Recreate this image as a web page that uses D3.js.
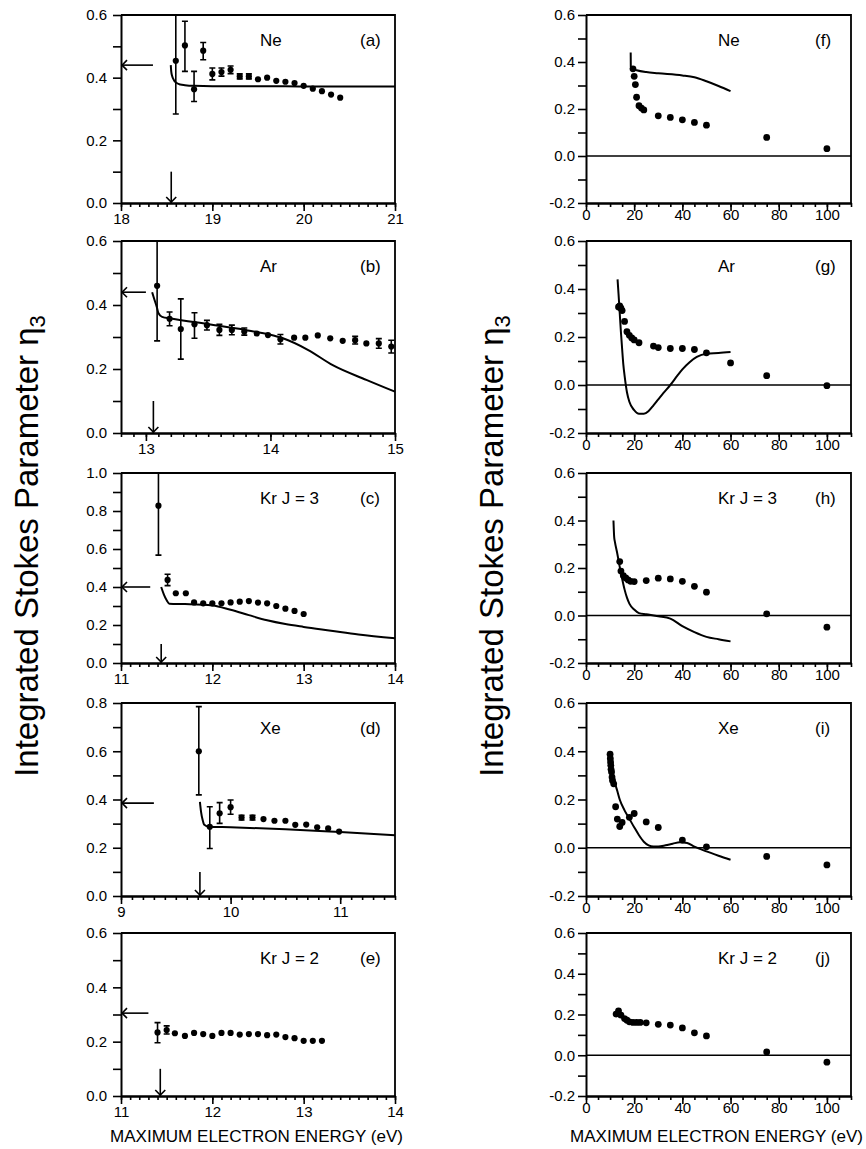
<!DOCTYPE html>
<html>
<head>
<meta charset="utf-8">
<script src="https://cdn.jsdelivr.net/npm/d3@7"></script>
<style>
body { margin: 0; background: #fff; }
svg { font-family: "Liberation Sans", Arial, Helvetica, sans-serif; }
</style>
</head>
<body>
<svg id="chart" width="866" height="1149"></svg>
<script>
// ---- left column, near threshold ----
var neE = [18.6, 18.7, 18.8, 18.9, 19.0, 19.1, 19.2, 19.3, 19.4, 19.5, 19.6, 19.7, 19.8, 19.9, 20.0, 20.1, 20.2, 20.3, 20.4];
var neEta = [0.454, 0.503, 0.363, 0.486, 0.412, 0.418, 0.425, 0.404, 0.404, 0.395, 0.400, 0.390, 0.387, 0.383, 0.374, 0.365, 0.357, 0.346, 0.336];
var neLo = [0.284, 0.42, 0.324, 0.457, 0.393, 0.405, 0.413, 0.396, 0.396, null, null, null, null, null, null, null, null, null, null];
var neHi = [0.6, 0.58, 0.42, 0.512, 0.431, 0.431, 0.437, 0.412, 0.412, null, null, null, null, null, null, null, null, null, null];
var neThE = [18.545, 18.55, 18.56, 18.58, 18.6, 18.65, 18.7, 18.8, 19.0, 19.5, 20.0, 21.0];
var neThEta = [0.44, 0.42, 0.405, 0.392, 0.385, 0.378, 0.376, 0.374, 0.373, 0.373, 0.372, 0.372];

var arE = [13.09, 13.19, 13.28, 13.39, 13.49, 13.59, 13.69, 13.79, 13.89, 13.98, 14.08, 14.19, 14.28, 14.38, 14.48, 14.58, 14.68, 14.77, 14.87, 14.97];
var arEta = [0.46, 0.357, 0.325, 0.34, 0.337, 0.322, 0.322, 0.317, 0.311, 0.306, 0.293, 0.298, 0.298, 0.305, 0.296, 0.288, 0.29, 0.28, 0.28, 0.27];
var arLo = [0.288, 0.335, 0.231, 0.296, 0.322, 0.305, 0.307, 0.306, null, null, 0.278, null, null, null, null, null, 0.278, null, 0.265, 0.25];
var arHi = [0.6, 0.378, 0.419, 0.376, 0.352, 0.34, 0.337, 0.328, null, null, 0.308, null, null, null, null, null, 0.302, null, 0.295, 0.29];
var arThE = [13.05, 13.07, 13.09, 13.1, 13.13, 13.2, 13.5, 13.8, 14.0, 14.1, 14.3, 14.5, 14.77, 15.0];
var arThEta = [0.44, 0.415, 0.39, 0.375, 0.363, 0.358, 0.34, 0.322, 0.307, 0.296, 0.26, 0.212, 0.166, 0.129];

var kr3E = [11.41, 11.51, 11.60, 11.71, 11.80, 11.90, 12.0, 12.1, 12.2, 12.3, 12.4, 12.5, 12.6, 12.7, 12.8, 12.9, 13.0];
var kr3Eta = [0.828, 0.437, 0.367, 0.367, 0.319, 0.314, 0.314, 0.314, 0.319, 0.323, 0.326, 0.318, 0.314, 0.30, 0.286, 0.274, 0.258];
var kr3Lo = [0.568, 0.407, null, null, null, null, null, null, null, null, null, null, null, null, null, null, null];
var kr3Hi = [1.0, 0.467, null, null, null, null, null, null, null, null, null, null, null, null, null, null, null];
var kr3ThE = [11.44, 11.47, 11.5, 11.53, 11.7, 12.0, 12.2, 12.4, 12.6, 12.8, 13.0, 13.3, 13.6, 14.0];
var kr3ThEta = [0.40, 0.36, 0.33, 0.312, 0.31, 0.303, 0.28, 0.252, 0.225, 0.205, 0.19, 0.17, 0.15, 0.13];

var xeE = [9.71, 9.81, 9.90, 10.0, 10.1, 10.2, 10.3, 10.4, 10.5, 10.59, 10.69, 10.79, 10.89, 10.99];
var xeEta = [0.60, 0.287, 0.343, 0.368, 0.325, 0.325, 0.319, 0.312, 0.312, 0.295, 0.296, 0.285, 0.28, 0.267];
var xeLo = [0.419, 0.197, 0.301, 0.339, 0.315, 0.315, null, null, null, null, null, null, null, null];
var xeHi = [0.785, 0.37, 0.387, 0.398, 0.335, 0.335, null, null, null, null, null, null, null, null];
var xeThE = [9.72, 9.73, 9.745, 9.76, 9.8, 10.0, 10.5, 11.0, 11.5];
var xeThEta = [0.39, 0.35, 0.315, 0.295, 0.287, 0.285, 0.277, 0.265, 0.252];

var kr2E = [11.40, 11.50, 11.59, 11.70, 11.80, 11.90, 12.0, 12.1, 12.2, 12.3, 12.4, 12.5, 12.6, 12.7, 12.8, 12.9, 13.0, 13.1, 13.2];
var kr2Eta = [0.234, 0.243, 0.231, 0.221, 0.232, 0.228, 0.221, 0.232, 0.232, 0.226, 0.228, 0.228, 0.224, 0.226, 0.217, 0.213, 0.203, 0.203, 0.203];
var kr2Lo = [0.196, 0.228, null, null, null, null, null, null, null, null, null, null, null, null, null, null, null, null, null];
var kr2Hi = [0.27, 0.258, null, null, null, null, null, null, null, null, null, null, null, null, null, null, null, null, null];

// arrows: threshold energy, limiting value, start of horizontal arrow
var thresholdE = [18.55, 13.06, 11.44, 9.72, 11.43];
var limitEta = [0.44, 0.44, 0.40, 0.385, 0.305];
var arrowFromE = [18.35, 13.0, 11.32, 9.3, 11.3];

// ---- right column, wide range ----
var neRE = [19.5, 20, 20.5, 21, 22, 23, 24, 30, 35, 40, 45, 50, 75, 100];
var neREta = [0.371, 0.339, 0.304, 0.25, 0.214, 0.204, 0.196, 0.171, 0.164, 0.154, 0.143, 0.131, 0.079, 0.031];
var neRThE = [18.55, 18.6, 19, 21, 25, 30, 40, 45, 50, 55, 60];
var neRThEta = [0.44, 0.38, 0.372, 0.365, 0.357, 0.352, 0.343, 0.335, 0.318, 0.298, 0.276];

var arRE = [13.5, 14, 14.5, 15, 16, 17, 18, 19, 20, 22, 28, 30, 35, 40, 45, 50, 60, 75, 100];
var arREta = [0.325, 0.33, 0.32, 0.31, 0.265, 0.222, 0.207, 0.196, 0.188, 0.176, 0.162, 0.156, 0.152, 0.152, 0.148, 0.134, 0.092, 0.039, -0.003];
var arRThE = [13.1, 13.5, 14, 14.5, 15, 15.5, 16, 17, 18, 20, 22, 24, 26, 28, 30, 32, 35, 38, 40, 43, 46, 50, 55, 60];
var arRThEta = [0.44, 0.38, 0.30, 0.22, 0.15, 0.085, 0.04, -0.03, -0.07, -0.105, -0.12, -0.12, -0.108, -0.085, -0.06, -0.035, 0.0, 0.04, 0.065, 0.095, 0.117, 0.13, 0.133, 0.137];

var kr3RE = [14, 14.5, 15.5, 16.5, 17.5, 18.5, 20, 25, 30, 35, 40, 45, 50, 75, 100];
var kr3REta = [0.227, 0.187, 0.168, 0.158, 0.15, 0.144, 0.143, 0.147, 0.157, 0.154, 0.144, 0.123, 0.098, 0.007, -0.049];
var kr3RThE = [11.4, 11.7, 12, 13, 14, 15, 16, 17, 18, 20, 22, 25, 30, 35, 40, 45, 50, 55, 60];
var kr3RThEta = [0.40, 0.33, 0.31, 0.26, 0.205, 0.155, 0.11, 0.075, 0.05, 0.025, 0.01, 0.005, -0.003, -0.013, -0.045, -0.07, -0.09, -0.1, -0.109];

var xeRE = [10, 10.1, 10.2, 10.3, 10.4, 10.6, 10.8, 11, 11.5, 12.3, 13, 14, 15, 18, 20, 25, 30, 40, 50, 75, 100];
var xeREta = [0.388, 0.37, 0.355, 0.342, 0.325, 0.314, 0.293, 0.279, 0.265, 0.17, 0.119, 0.088, 0.105, 0.126, 0.142, 0.107, 0.084, 0.032, 0.004, -0.036, -0.071];
var xeRThE = [9.9, 10.5, 11, 12, 13, 14, 16, 18, 20, 22, 24, 26, 28, 30, 33, 36, 39, 42, 45, 50, 55, 60];
var xeRThEta = [0.38, 0.35, 0.32, 0.27, 0.235, 0.2, 0.155, 0.12, 0.085, 0.052, 0.025, 0.01, 0.005, 0.005, 0.01, 0.017, 0.023, 0.02, 0.005, -0.015, -0.033, -0.05];

var kr2RE = [12.5, 13.5, 14.5, 16, 17, 18, 19.5, 21, 22.5, 25, 30, 35, 40, 45, 50, 75, 100];
var kr2REta = [0.202, 0.218, 0.197, 0.18, 0.172, 0.164, 0.161, 0.161, 0.161, 0.159, 0.152, 0.148, 0.134, 0.11, 0.095, 0.016, -0.034];

var gasNames = ["Ne", "Ar", "Kr J = 3", "Xe", "Kr J = 2"];
var leftTags = ["(a)", "(b)", "(c)", "(d)", "(e)"];
var rightTags = ["(f)", "(g)", "(h)", "(i)", "(j)"];

// ---- layout ----
var leftX = [121, 395], rightX = [586, 851];
var rows = [[15, 203], [241, 433], [473, 663], [703, 896], [933, 1096]];

var svg = d3.select("#chart");

// tick positions from a to b (inclusive) every s
function steps(a, b, s) {
    var out = [];
    for (var i = Math.ceil(a / s - 1e-6); i <= Math.floor(b / s + 1e-6); i++) out.push(+(i * s).toFixed(4));
    return out;
}

var panels = [
    {col: 0, row: 0, xDom: [18, 21], xMajor: 1, xMinor: 0.1, yDom: [0, 0.6],
        e: neE, eta: neEta, lo: neLo, hi: neHi, thE: neThE, thEta: neThEta},
    {col: 0, row: 1, xDom: [12.8, 15], xMajor: 1, xMinor: 0.1, yDom: [0, 0.6],
        e: arE, eta: arEta, lo: arLo, hi: arHi, thE: arThE, thEta: arThEta},
    {col: 0, row: 2, xDom: [11, 14], xMajor: 1, xMinor: 0.1, yDom: [0, 1.0],
        e: kr3E, eta: kr3Eta, lo: kr3Lo, hi: kr3Hi, thE: kr3ThE, thEta: kr3ThEta},
    {col: 0, row: 3, xDom: [9, 11.5], xMajor: 1, xMinor: 0.1, yDom: [0, 0.8],
        e: xeE, eta: xeEta, lo: xeLo, hi: xeHi, thE: xeThE, thEta: xeThEta},
    {col: 0, row: 4, xDom: [11, 14], xMajor: 1, xMinor: 0.1, yDom: [0, 0.6],
        e: kr2E, eta: kr2Eta, lo: kr2Lo, hi: kr2Hi, thE: null, thEta: null},
    {col: 1, row: 0, xDom: [0, 110], xMajor: 20, xMinor: 5, yDom: [-0.2, 0.6],
        e: neRE, eta: neREta, thE: neRThE, thEta: neRThEta},
    {col: 1, row: 1, xDom: [0, 110], xMajor: 20, xMinor: 5, yDom: [-0.2, 0.6],
        e: arRE, eta: arREta, thE: arRThE, thEta: arRThEta},
    {col: 1, row: 2, xDom: [0, 110], xMajor: 20, xMinor: 5, yDom: [-0.2, 0.6],
        e: kr3RE, eta: kr3REta, thE: kr3RThE, thEta: kr3RThEta},
    {col: 1, row: 3, xDom: [0, 110], xMajor: 20, xMinor: 5, yDom: [-0.2, 0.6],
        e: xeRE, eta: xeREta, thE: xeRThE, thEta: xeRThEta},
    {col: 1, row: 4, xDom: [0, 110], xMajor: 20, xMinor: 5, yDom: [-0.2, 0.6],
        e: kr2RE, eta: kr2REta, thE: null, thEta: null}
];

function drawPanel(p) {
    var g = svg.append("g");
    var xr = p.col ? rightX : leftX;
    var top = rows[p.row][0], bottom = rows[p.row][1];
    var x = d3.scaleLinear().domain(p.xDom).range(xr);
    var y = d3.scaleLinear().domain(p.yDom).range([bottom, top]);

    // y axis: a tick every 0.1, labels every 0.2
    var yAx = g.append("g")
        .attr("transform", "translate(" + xr[0] + ",0)")
        .call(d3.axisLeft(y)
            .tickValues(steps(p.yDom[0], p.yDom[1], 0.1))
            .tickSize(8).tickSizeOuter(0)
            .tickPadding(p.col ? 3 : 6)
            .tickFormat(function (d) {
                return Math.round(d * 10) % 2 === 0 ? d.toFixed(1) : "";
            }));

    // x axis: minor ticks, then labelled major ticks
    var xMin = g.append("g")
        .attr("transform", "translate(0," + bottom + ")")
        .call(d3.axisBottom(x)
            .tickValues(steps(p.xDom[0], p.xDom[1], p.xMinor))
            .tickSize(4).tickSizeOuter(0).tickFormat(""));
    var xAx = g.append("g")
        .attr("transform", "translate(0," + bottom + ")")
        .call(d3.axisBottom(x)
            .tickValues(steps(p.xDom[0], p.xDom[1], p.xMajor))
            .tickSize(8).tickSizeOuter(0)
            .tickPadding(p.col ? -2 : 2)
            .tickFormat(d3.format("d")));

    [yAx, xMin, xAx].forEach(function (a) {
        a.select(".domain").attr("stroke-width", 2);
        a.selectAll(".tick line").attr("stroke-width", 1.6);
        a.selectAll("text").attr("font-size", 15).attr("fill", "#000");
    });

    // frame on top and right
    g.append("path")
        .attr("d", "M" + xr[0] + "," + top + "H" + xr[1] + "V" + bottom)
        .attr("fill", "none").attr("stroke", "#000").attr("stroke-width", 1.8);

    if (p.col) {
        g.append("line")
            .attr("x1", xr[0]).attr("x2", xr[1])
            .attr("y1", y(0)).attr("y2", y(0))
            .attr("stroke", "#000").attr("stroke-width", 1.5);
    }

    // theory curve
    if (p.thE) {
        var line = d3.line()
            .x(function (d) { return x(d[0]); })
            .y(function (d) { return y(d[1]); })
            .curve(d3.curveMonotoneX);
        g.append("path")
            .datum(d3.zip(p.thE, p.thEta))
            .attr("d", line)
            .attr("fill", "none").attr("stroke", "#000").attr("stroke-width", 2);
    }

    // error bars
    if (p.lo) {
        var bars = p.e.map(function (e, i) { return {e: e, lo: p.lo[i], hi: p.hi[i]}; })
            .filter(function (d) { return d.lo !== null; });
        var eb = g.append("g").attr("stroke", "#000").attr("stroke-width", 1.6);
        eb.selectAll("line.v").data(bars).enter().append("line")
            .attr("x1", function (d) { return x(d.e); })
            .attr("x2", function (d) { return x(d.e); })
            .attr("y1", function (d) { return y(d.lo); })
            .attr("y2", function (d) { return y(d.hi); });
        eb.selectAll("path.cap").data(bars).enter().append("path")
            .attr("d", function (d) {
                var cx = x(d.e);
                return "M" + (cx - 3) + "," + y(d.lo) + "h6M" + (cx - 3) + "," + y(d.hi) + "h6";
            });
    }

    // measured points
    g.append("g").selectAll("circle")
        .data(d3.zip(p.e, p.eta))
        .enter().append("circle")
        .attr("cx", function (d) { return x(d[0]); })
        .attr("cy", function (d) { return y(d[1]); })
        .attr("r", p.col ? 3.4 : 3.1)
        .attr("fill", "#000");

    // threshold and limit arrows (left column)
    if (!p.col) {
        var ax = x(p.xDom[0]), ly = y(limitEta[p.row]);
        g.append("line")
            .attr("x1", x(arrowFromE[p.row])).attr("x2", ax)
            .attr("y1", ly).attr("y2", ly)
            .attr("stroke", "#000").attr("stroke-width", 1.6);
        g.append("path")
            .attr("d", "M" + (ax + 6) + "," + (ly - 5) + "L" + (ax + 1) + "," + ly + "L" + (ax + 6) + "," + (ly + 5))
            .attr("fill", "none").attr("stroke", "#000").attr("stroke-width", 1.6);
        var tx = x(thresholdE[p.row]);
        g.append("line")
            .attr("x1", tx).attr("x2", tx)
            .attr("y1", y(0.1)).attr("y2", y(0))
            .attr("stroke", "#000").attr("stroke-width", 1.6);
        g.append("path")
            .attr("d", "M" + (tx - 5) + "," + (y(0) - 6) + "L" + tx + "," + (y(0) - 1) + "L" + (tx + 5) + "," + (y(0) - 6))
            .attr("fill", "none").attr("stroke", "#000").attr("stroke-width", 1.6);
    }

    // gas name and panel letter
    g.append("text")
        .attr("x", p.col ? 718 : 260).attr("y", top + 31)
        .attr("font-size", 17)
        .text(gasNames[p.row]);
    g.append("text")
        .attr("x", p.col ? 815 : 360).attr("y", top + 31)
        .attr("font-size", 17)
        .text(p.col ? rightTags[p.row] : leftTags[p.row]);
}

panels.forEach(drawPanel);

// axis titles
[38, 503].forEach(function (bx) {
    var t = svg.append("text")
        .attr("transform", "translate(" + bx + ",546) rotate(-90)")
        .attr("text-anchor", "middle")
        .attr("font-size", 33);
    t.append("tspan").text("Integrated Stokes Parameter \u03b7");
    t.append("tspan").attr("font-size", 22).attr("dy", 7).text("3");
});

[110, 570].forEach(function (lx) {
    svg.append("text")
        .attr("x", lx).attr("y", 1142)
        .attr("font-size", 16)
        .attr("textLength", 293)
        .attr("lengthAdjust", "spacingAndGlyphs")
        .text("MAXIMUM ELECTRON ENERGY (eV)");
});
</script>
</body>
</html>
